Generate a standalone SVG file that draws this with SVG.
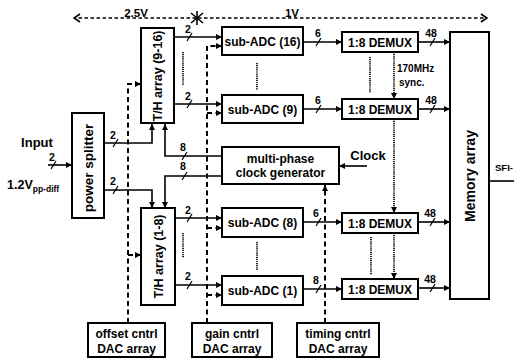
<svg xmlns="http://www.w3.org/2000/svg" width="514" height="358" viewBox="0 0 514 358">
<defs>
<style>
.box{fill:#fff;stroke:#000;stroke-width:2}
.t{font-family:"Liberation Sans",Arial,sans-serif;font-weight:bold;fill:#000}
.c12{font-size:12px;text-anchor:middle}
.lbl{font-size:10.5px;text-anchor:middle}
.ln{fill:none;stroke:#000;stroke-width:1.6}
.dash{fill:none;stroke:#000;stroke-width:2;stroke-dasharray:5 3.5}
.dot{fill:none;stroke:#000;stroke-width:1.7;stroke-dasharray:1.2 0.9}
.tdash{fill:none;stroke:#000;stroke-width:1.4;stroke-dasharray:3.5 2.5}
.sl{stroke:#000;stroke-width:1.2}
</style>
<marker id="ah" viewBox="0 0 6 6" refX="6" refY="3" markerWidth="6" markerHeight="6" orient="auto" markerUnits="userSpaceOnUse"><path d="M0,0 L6,3 L0,6 z" fill="#000"/></marker>
<marker id="ch" viewBox="0 0 8 10" refX="7" refY="5" markerWidth="8" markerHeight="10" orient="auto" markerUnits="userSpaceOnUse"><path d="M1,1 L7,5 L1,9" fill="none" stroke="#000" stroke-width="1.6"/></marker>
</defs>
<rect width="514" height="358" fill="#fff"/>

<!-- supply domain bar -->
<g id="supply">
<line class="tdash" x1="196" y1="18" x2="74" y2="18" marker-end="url(#ch)"/>
<line class="tdash" x1="198" y1="18" x2="487" y2="18" marker-end="url(#ch)"/>
<g stroke="#000" stroke-width="1.6">
<line x1="197" y1="11" x2="197" y2="25"/>
<line x1="191" y1="13" x2="203" y2="23"/>
<line x1="203" y1="13" x2="191" y2="23"/>
</g>
<text class="t" x="136" y="17" font-size="11.5" text-anchor="middle">2.5V</text>
<text class="t" x="292" y="17" font-size="11.5" text-anchor="middle">1V</text>
</g>

<!-- connectors -->
<g id="connectors">
<!-- input -->
<line class="ln" x1="48" y1="165" x2="72" y2="165" marker-end="url(#ah)"/>
<!-- splitter outputs -->
<polyline class="ln" points="104,143 152,143 152,124" marker-end="url(#ah)"/>
<polyline class="ln" points="104,190 152,190 152,208" marker-end="url(#ah)"/>
<!-- T/H outputs -->
<line class="ln" x1="174" y1="37" x2="222" y2="37" marker-end="url(#ah)"/>
<line class="ln" x1="174" y1="104" x2="222" y2="104" marker-end="url(#ah)"/>
<line class="ln" x1="175" y1="218" x2="222" y2="218" marker-end="url(#ah)"/>
<line class="ln" x1="175" y1="285" x2="222" y2="285" marker-end="url(#ah)"/>
<!-- clock generator to T/H -->
<polyline class="ln" points="222,156 165,156 165,124" marker-end="url(#ah)"/>
<polyline class="ln" points="222,176 165,176 165,208" marker-end="url(#ah)"/>
<!-- sub-ADC to DEMUX -->
<line class="ln" x1="303" y1="42" x2="342" y2="42" marker-end="url(#ah)"/>
<line class="ln" x1="303" y1="109" x2="342" y2="109" marker-end="url(#ah)"/>
<line class="ln" x1="303" y1="222" x2="342" y2="222" marker-end="url(#ah)"/>
<line class="ln" x1="303" y1="289" x2="342" y2="289" marker-end="url(#ah)"/>
<!-- DEMUX to memory -->
<line class="ln" x1="418" y1="42" x2="450" y2="42" marker-end="url(#ah)"/>
<line class="ln" x1="418" y1="109" x2="450" y2="109" marker-end="url(#ah)"/>
<line class="ln" x1="418" y1="222" x2="450" y2="222" marker-end="url(#ah)"/>
<line class="ln" x1="418" y1="288" x2="450" y2="288" marker-end="url(#ah)"/>
<!-- memory output -->
<line class="ln" x1="489" y1="181" x2="514" y2="181"/>
<!-- clock input -->
<line class="ln" x1="367" y1="166" x2="339" y2="166" marker-end="url(#ah)"/>
<!-- 170MHz sync -->
<line class="dot" x1="394" y1="52" x2="394" y2="99" marker-end="url(#ah)"/>
<line class="dot" x1="394" y1="119" x2="394" y2="213" marker-end="url(#ah)"/>
<line class="dot" x1="394" y1="233" x2="394" y2="279" marker-end="url(#ah)"/>
<!-- repeat dots -->
<line class="dot" x1="183" y1="52" x2="183" y2="85"/>
<line class="dot" x1="183" y1="233" x2="183" y2="258"/>
<line class="dot" x1="257" y1="63" x2="257" y2="90"/>
<line class="dot" x1="257" y1="242" x2="257" y2="270"/>
<line class="dot" x1="370" y1="57" x2="370" y2="93"/>
<line class="dot" x1="371" y1="237" x2="371" y2="275"/>
<!-- offset control -->
<polyline class="dash" points="128,323 128,84 141,84" marker-end="url(#ah)"/>
<polyline class="dash" points="128,255 141,255" marker-end="url(#ah)"/>
<!-- gain control -->
<polyline class="dash" points="207,323 207,46 222,46" marker-end="url(#ah)"/>
<polyline class="dash" points="207,113 222,113" marker-end="url(#ah)"/>
<polyline class="dash" points="207,228 222,228" marker-end="url(#ah)"/>
<polyline class="dash" points="207,295 222,295" marker-end="url(#ah)"/>
<!-- timing control -->
<line class="dash" x1="325" y1="323" x2="325" y2="185" marker-end="url(#ah)"/>
<!-- bus slashes -->
<g class="sl">
<line x1="51" y1="169" x2="56" y2="161"/>
<line x1="113" y1="147" x2="118" y2="139"/>
<line x1="113" y1="194" x2="118" y2="186"/>
<line x1="187" y1="41" x2="192" y2="33"/>
<line x1="187" y1="108" x2="192" y2="100"/>
<line x1="187" y1="222" x2="192" y2="214"/>
<line x1="187" y1="289" x2="192" y2="281"/>
<line x1="182" y1="160" x2="187" y2="152"/>
<line x1="182" y1="180" x2="187" y2="172"/>
<line x1="316" y1="46" x2="321" y2="38"/>
<line x1="316" y1="113" x2="321" y2="105"/>
<line x1="316" y1="226" x2="321" y2="218"/>
<line x1="316" y1="293" x2="321" y2="285"/>
<line x1="430" y1="46" x2="435" y2="38"/>
<line x1="430" y1="113" x2="435" y2="105"/>
<line x1="430" y1="226" x2="435" y2="218"/>
<line x1="430" y1="292" x2="435" y2="284"/>
</g>
<!-- bus labels -->
<g class="t lbl">
<text x="52" y="161">2</text>
<text x="113" y="139">2</text>
<text x="113" y="185">2</text>
<text x="188" y="33">2</text>
<text x="188" y="100">2</text>
<text x="188" y="214">2</text>
<text x="188" y="280">2</text>
<text x="183" y="151">8</text>
<text x="183" y="170">8</text>
<text x="318" y="37">6</text>
<text x="318" y="104">6</text>
<text x="316" y="217">6</text>
<text x="316" y="284">8</text>
<text x="431" y="37">48</text>
<text x="431" y="104">48</text>
<text x="430" y="217">48</text>
<text x="430" y="283">48</text>
</g>
</g>

<!-- free text -->
<g id="labels">
<text class="t" x="37" y="147" font-size="13" text-anchor="middle">Input</text>
<text class="t" x="7" y="189" font-size="12.5">1.2V<tspan font-size="8.5" dy="3">pp-diff</tspan></text>
<text class="t" x="368" y="160" font-size="13" text-anchor="middle">Clock</text>
<text class="t" x="397" y="72" font-size="10">170MHz</text>
<text class="t" x="399" y="86" font-size="10">sync.</text>
<text class="t" x="495" y="171" font-size="9.5">SFI-</text>
</g>

<g id="power-splitter">
<rect class="box" x="72" y="113" width="32" height="105"/>
<text class="t" transform="translate(88,168) rotate(-90)" y="5" font-size="13.5" text-anchor="middle">power splitter</text>
</g>

<g id="th-9-16">
<rect class="box" x="141" y="28" width="33" height="95"/>
<text class="t" transform="translate(157.5,76) rotate(-90)" y="4.5" font-size="12.5" text-anchor="middle">T/H array (9-16)</text>
</g>

<g id="th-1-8">
<rect class="box" x="141" y="208" width="34" height="97"/>
<text class="t" transform="translate(158,256.5) rotate(-90)" y="4.5" font-size="12.5" text-anchor="middle">T/H array (1-8)</text>
</g>

<g id="sub-adc-16">
<rect class="box" x="222" y="27" width="81" height="28"/>
<text class="t c12" x="262.5" y="45.5">sub-ADC (16)</text>
</g>
<g id="sub-adc-9">
<rect class="box" x="222" y="95" width="81" height="28"/>
<text class="t c12" x="262.5" y="113.5">sub-ADC (9)</text>
</g>
<g id="sub-adc-8">
<rect class="box" x="222" y="208" width="81" height="29"/>
<text class="t c12" x="262.5" y="226.5">sub-ADC (8)</text>
</g>
<g id="sub-adc-1">
<rect class="box" x="222" y="276" width="81" height="29"/>
<text class="t c12" x="262.5" y="294.5">sub-ADC (1)</text>
</g>

<g id="clock-gen">
<rect class="box" x="222" y="147" width="117" height="37"/>
<text class="t c12" x="280.5" y="163">multi-phase</text>
<text class="t c12" x="280.5" y="177">clock generator</text>
</g>

<g id="demux-16">
<rect class="box" x="342" y="32" width="76" height="20"/>
<text class="t c12" x="380" y="46.5">1:8 DEMUX</text>
</g>
<g id="demux-9">
<rect class="box" x="342" y="99" width="76" height="20"/>
<text class="t c12" x="380" y="113.5">1:8 DEMUX</text>
</g>
<g id="demux-8">
<rect class="box" x="342" y="213" width="76" height="20"/>
<text class="t c12" x="380" y="227.5">1:8 DEMUX</text>
</g>
<g id="demux-1">
<rect class="box" x="342" y="279" width="76" height="20"/>
<text class="t c12" x="380" y="293.5">1:8 DEMUX</text>
</g>

<g id="memory">
<rect class="box" x="450" y="32" width="39" height="267"/>
<text class="t" transform="translate(469.5,176) rotate(-90)" y="5" font-size="14" text-anchor="middle">Memory array</text>
</g>

<g id="offset-dac">
<rect class="box" x="88" y="323" width="77" height="34"/>
<text class="t c12" x="126.5" y="338">offset cntrl</text>
<text class="t c12" x="126.5" y="353">DAC array</text>
</g>
<g id="gain-dac">
<rect class="box" x="192" y="323" width="80" height="34"/>
<text class="t c12" x="232" y="338">gain cntrl</text>
<text class="t c12" x="232" y="353">DAC array</text>
</g>
<g id="timing-dac">
<rect class="box" x="297" y="323" width="82" height="34"/>
<text class="t c12" x="338" y="338">timing cntrl</text>
<text class="t c12" x="338" y="353">DAC array</text>
</g>
</svg>
